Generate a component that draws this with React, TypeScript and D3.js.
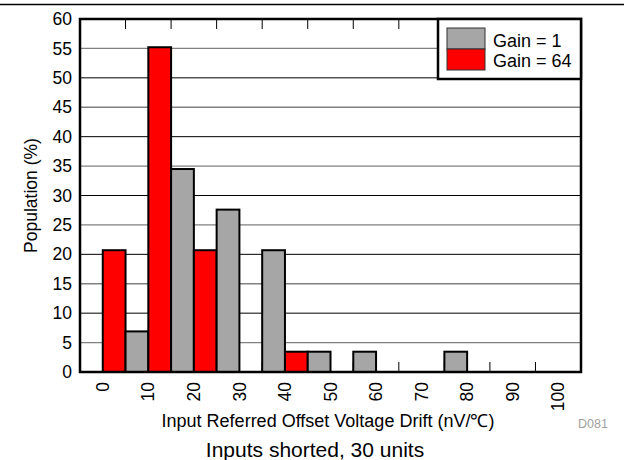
import React from "react";
import * as d3 from "d3";

const categories = ["0", "10", "20", "30", "40", "50", "60", "70", "80", "90", "100"];
const gain1 = [0, 6.9, 34.5, 27.6, 20.7, 3.45, 3.45, 0, 3.45, 0, 0];
const gain64 = [20.7, 55.2, 20.7, 0, 3.45, 0, 0, 0, 0, 0, 0];
const yTicks = [0, 5, 10, 15, 20, 25, 30, 35, 40, 45, 50, 55, 60];
const seriesNames = ["Gain = 1", "Gain = 64"];
const seriesColors = ["#A6A6A6", "#FF0000"];

const W = 624;
const H = 460;
const L = 80, R = 581, T = 19, B = 372;
const FONT = "'Liberation Sans', Arial, sans-serif";

export default function App() {
  const x = d3.scaleBand<string>().domain(categories).range([L, R]).padding(0);
  const y = d3.scaleLinear().domain([0, 60]).range([B, T]);
  const bw = x.bandwidth();

  return (
    <svg width={W} height={H} style={{ position: "absolute", left: 0, top: 0, background: "#fff" }}>
      <line x1={0} x2={W} y1={4.5} y2={4.5} stroke="#000" strokeWidth={1.5} />
      {/* gridlines */}
      {yTicks.filter((t) => t > 0 && t < 60).map((t) => (
        <line key={t} x1={L} x2={R} y1={y(t)} y2={y(t)}
          stroke={t % 10 === 0 ? "#000" : "#808080"} strokeWidth={t % 10 === 0 ? 1 : 1.3} />
      ))}
      {/* tick marks top and bottom at band boundaries */}
      {categories.slice(1).map((c) => (
        <g key={c}>
          <line x1={x(c)!} x2={x(c)!} y1={T} y2={T + 10} stroke="#000" strokeWidth={1} />
          <line x1={x(c)!} x2={x(c)!} y1={B} y2={B - 10} stroke="#000" strokeWidth={1} />
        </g>
      ))}
      {/* bars */}
      {categories.map((c, i) => (
        <g key={c}>
          {gain1[i] > 0 && (
            <rect x={x(c)!} y={y(gain1[i])} width={bw / 2} height={B - y(gain1[i])}
              fill={seriesColors[0]} stroke="#000" strokeWidth={2} />
          )}
          {gain64[i] > 0 && (
            <rect x={x(c)! + bw / 2} y={y(gain64[i])} width={bw / 2} height={B - y(gain64[i])}
              fill={seriesColors[1]} stroke="#000" strokeWidth={2} />
          )}
        </g>
      ))}
      {/* frame */}
      <rect x={L} y={T} width={R - L} height={B - T} fill="none" stroke="#000" strokeWidth={2.5} />
      {/* y tick labels */}
      {yTicks.map((t) => (
        <text key={t} x={72} y={y(t)} dy="0.35em" textAnchor="end" fontFamily={FONT} fontSize={17.5}>{t}</text>
      ))}
      {/* x tick labels */}
      {categories.map((c) => (
        <text key={c} transform={`translate(${x(c)! + bw / 2},382) rotate(-90)`} dy="0.35em"
          textAnchor="end" fontFamily={FONT} fontSize={17.5}>{c}</text>
      ))}
      {/* legend */}
      <rect x={438} y={T} width={R - 438} height={60} fill="#fff" stroke="#000" strokeWidth={2.5} />
      {seriesNames.map((n, i) => (
        <g key={n}>
          <rect x={447} y={28 + i * 21} width={38} height={21} fill={seriesColors[i]} stroke="#333" strokeWidth={1} />
          <text x={493} y={47 + i * 20} fontFamily={FONT} fontSize={18}>{n}</text>
        </g>
      ))}
      {/* axis titles */}
      <text transform={`translate(37,${(T + B) / 2}) rotate(-90)`} textAnchor="middle" fontFamily={FONT} fontSize={17.5}>Population (%)</text>
      <text x={328} y={427} textAnchor="middle" fontFamily={FONT} fontSize={18}>Input Referred Offset Voltage Drift (nV/℃)</text>
      <text x={315} y={457} textAnchor="middle" fontFamily={FONT} fontSize={21}>Inputs shorted, 30 units</text>
      <text x={593} y={428} textAnchor="middle" fontFamily={FONT} fontSize={12.5} fill="#A0A0A0">D081</text>
    </svg>
  );
}
